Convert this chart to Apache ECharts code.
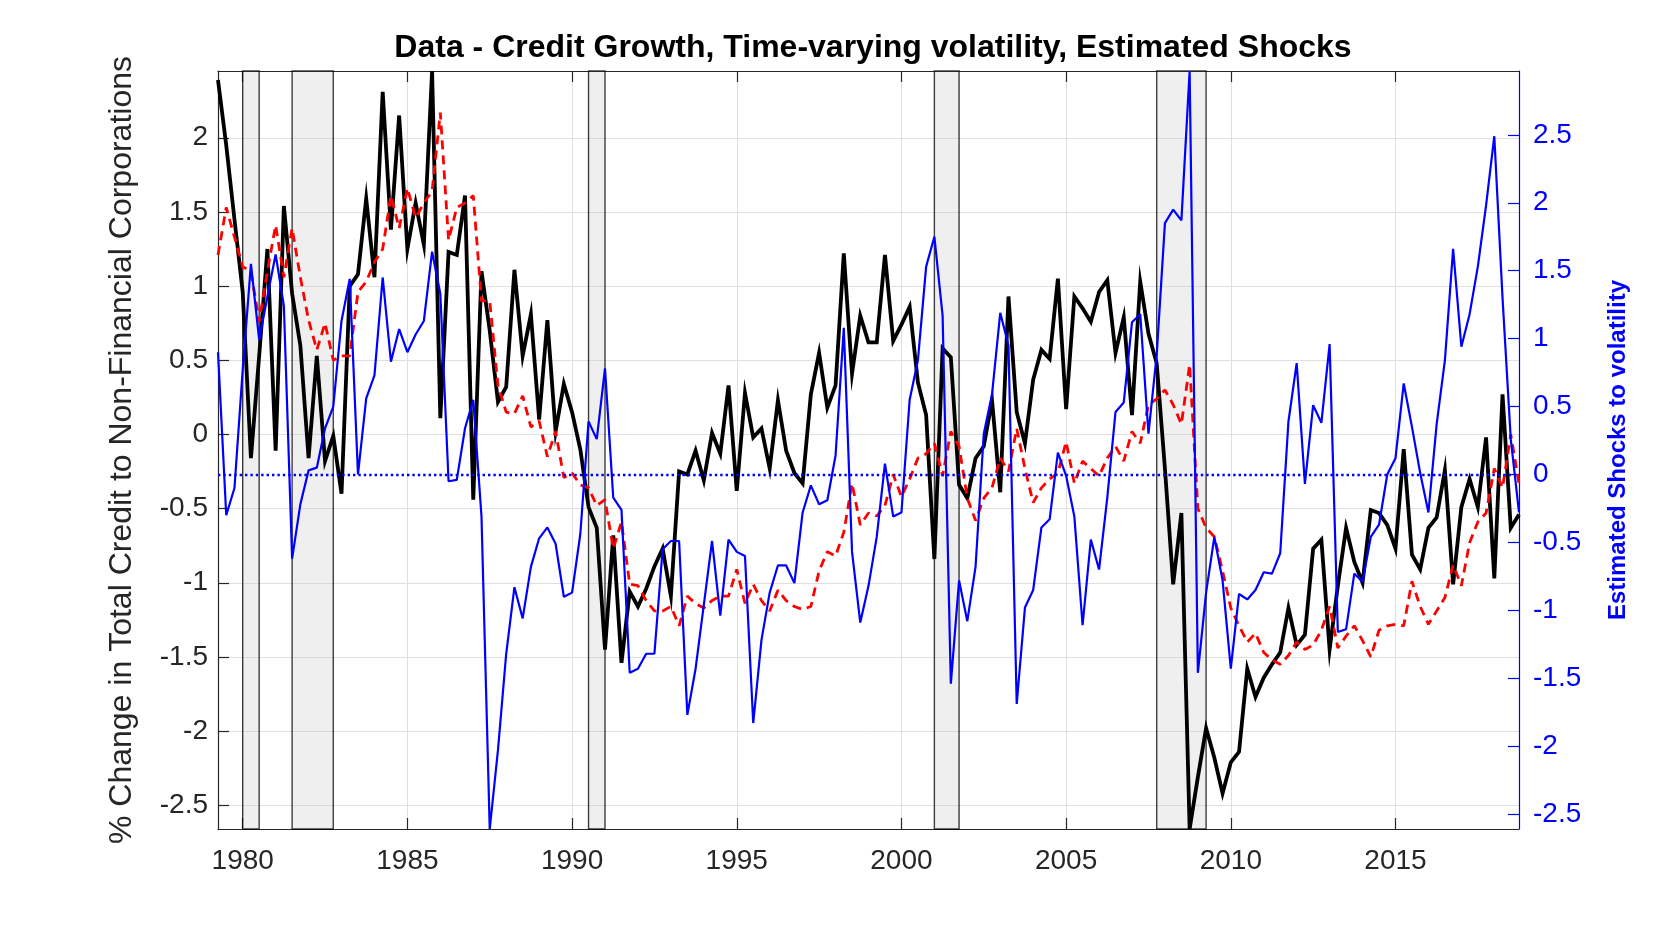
<!DOCTYPE html>
<html>
<head>
<meta charset="utf-8">
<title>Credit Growth, Time-varying volatility, Estimated Shocks</title>
<script src="https://cdn.jsdelivr.net/npm/echarts@6/dist/echarts.min.js"></script>
<style>
  html, body { margin: 0; padding: 0; background: #fff; }
  #chart { width: 1680px; height: 933px; }
</style>
</head>
<body>
<div id="chart"></div>
<script>
var myChart = echarts.init(document.getElementById('chart'));

// quarterly data, 1979Q2 .. 2018Q4
var startYear = 1979.25;

// % change in total credit to non-financial corporations (black)
var creditGrowth = [
    2.39, 1.95, 1.45,
    0.96, -0.16, 0.53, 1.25,
    -0.11, 1.54, 0.95, 0.60,
    -0.16, 0.53, -0.18, -0.01,
    -0.40, 1.00, 1.08, 1.59,
    1.06, 2.31, 1.38, 2.15,
    1.25, 1.56, 1.28, 2.45,
    0.11, 1.23, 1.21, 1.61,
    -0.44, 1.10, 0.70, 0.22,
    0.32, 1.11, 0.53, 0.81,
    0.10, 0.77, 0.02, 0.34,
    0.15, -0.10, -0.49, -0.63,
    -1.45, -0.68, -1.54, -1.06,
    -1.16, -1.04, -0.89, -0.77,
    -1.09, -0.25, -0.27, -0.11,
    -0.31, 0.01, -0.13, 0.33,
    -0.38, 0.28, -0.02, 0.04,
    -0.23, 0.23, -0.11, -0.26,
    -0.33, 0.27, 0.55, 0.18,
    0.33, 1.22, 0.41, 0.80,
    0.62, 0.62, 1.21, 0.63,
    0.74, 0.86, 0.35, 0.13,
    -0.84, 0.58, 0.52, -0.34,
    -0.43, -0.16, -0.08, 0.23,
    -0.39, 0.93, 0.15, -0.06,
    0.37, 0.57, 0.51, 1.05,
    0.17, 0.93, 0.85, 0.76,
    0.96, 1.04, 0.55, 0.79,
    0.13, 1.03, 0.68, 0.48,
    -0.23, -1.01, -0.53, -2.66,
    -2.31, -1.98, -2.18, -2.42,
    -2.21, -2.14, -1.58, -1.77,
    -1.64, -1.55, -1.47, -1.17,
    -1.42, -1.35, -0.77, -0.71,
    -1.45, -1.02, -0.63, -0.86,
    -1.00, -0.51, -0.53, -0.61,
    -0.77, -0.10, -0.81, -0.91,
    -0.63, -0.56, -0.24, -1.01,
    -0.49, -0.30, -0.49, -0.02,
    -0.97, 0.27, -0.63, -0.54
];

// time-varying volatility (red dashed)
var volatility = [
    1.21, 1.53, 1.33,
    1.13, 1.10, 0.76, 1.10,
    1.41, 1.06, 1.39, 1.06,
    0.77, 0.57, 0.75, 0.50,
    0.53, 0.53, 0.96, 1.03,
    1.16, 1.25, 1.61, 1.39,
    1.66, 1.46, 1.56, 1.64,
    2.17, 1.31, 1.53, 1.56,
    1.61, 0.90, 0.90, 0.33,
    0.15, 0.14, 0.26, 0.05,
    0.09, -0.15, 0.02, -0.29,
    -0.26, -0.34, -0.36, -0.48,
    -0.44, -0.77, -0.59, -1.01,
    -1.02, -1.12, -1.19, -1.19,
    -1.16, -1.29, -1.09, -1.14,
    -1.17, -1.12, -1.09, -1.09,
    -0.91, -1.14, -1.01, -1.12,
    -1.19, -1.05, -1.12, -1.16,
    -1.18, -1.16, -0.92, -0.79,
    -0.82, -0.66, -0.33, -0.61,
    -0.53, -0.55, -0.48, -0.27,
    -0.42, -0.30, -0.16, -0.13,
    -0.06, -0.28, 0.02, -0.08,
    -0.43, -0.58, -0.43, -0.36,
    -0.16, -0.25, 0.04, -0.23,
    -0.46, -0.36, -0.30, -0.26,
    -0.05, -0.33, -0.18, -0.23,
    -0.28, -0.16, -0.08, -0.18,
    0.02, -0.06, 0.20, 0.24,
    0.30, 0.20, 0.07, 0.47,
    -0.50, -0.63, -0.69, -0.92,
    -1.17, -1.29, -1.40, -1.34,
    -1.47, -1.52, -1.55, -1.49,
    -1.40, -1.45, -1.42, -1.32,
    -1.16, -1.44, -1.36, -1.29,
    -1.39, -1.50, -1.32, -1.29,
    -1.28, -1.29, -0.99, -1.16,
    -1.28, -1.19, -1.10, -0.88,
    -1.02, -0.73, -0.59, -0.53,
    -0.23, -0.36, 0.00, -0.33
];

// estimated shocks to volatility (blue, right axis)
var shocks = [
    0.90, -0.30, -0.10,
    0.77, 1.55, 0.99, 1.31,
    1.62, 1.24, -0.62, -0.22,
    0.03, 0.05, 0.34, 0.50,
    1.13, 1.44, 0.00, 0.56,
    0.73, 1.45, 0.83, 1.07,
    0.90, 1.03, 1.13, 1.64,
    1.33, -0.05, -0.04, 0.34,
    0.55, -0.31, -2.61, -2.03,
    -1.32, -0.83, -1.06, -0.68,
    -0.47, -0.39, -0.51, -0.90,
    -0.87, -0.44, 0.39, 0.26,
    0.78, -0.17, -0.26, -1.46,
    -1.43, -1.32, -1.32, -0.55,
    -0.49, -0.49, -1.77, -1.43,
    -0.96, -0.49, -1.04, -0.48,
    -0.57, -0.60, -1.83, -1.22,
    -0.87, -0.67, -0.67, -0.80,
    -0.28, -0.08, -0.22, -0.19,
    0.14, 1.08, -0.57, -1.09,
    -0.82, -0.46, 0.08, -0.31,
    -0.28, 0.55, 0.84, 1.53,
    1.75, 1.17, -1.54, -0.78,
    -1.08, -0.68, 0.30, 0.59,
    1.19, 0.95, -1.69, -0.98,
    -0.85, -0.39, -0.33, 0.16,
    -0.01, -0.31, -1.11, -0.48,
    -0.70, -0.17, 0.46, 0.53,
    1.12, 1.18, 0.30, 0.88,
    1.85, 1.95, 1.87, 2.97,
    -1.46, -0.87, -0.46, -0.78,
    -1.43, -0.88, -0.92, -0.85,
    -0.72, -0.73, -0.58, 0.39,
    0.82, -0.07, 0.51, 0.38,
    0.96, -1.16, -1.14, -0.73,
    -0.79, -0.46, -0.37, 0.00,
    0.12, 0.67, 0.35, 0.01,
    -0.28, 0.37, 0.84, 1.66,
    0.94, 1.18, 1.53, 1.98,
    2.49, 1.30, 0.26, -0.28
];

// recessions (start, end)
var recessions = [
    [1980.0, 1980.5],
    [1981.5, 1982.75],
    [1990.5, 1991.0],
    [2001.0, 2001.75],
    [2007.75, 2009.25]
];

var yearTicks = [1980, 1985, 1990, 1995, 2000, 2005, 2010, 2015];
var leftTicks = [-2.5, -2, -1.5, -1, -0.5, 0, 0.5, 1, 1.5, 2];
var rightTicks = [-2.5, -2, -1.5, -1, -0.5, 0, 0.5, 1, 1.5, 2, 2.5];

var pairUp = function (vals) {
    var res = [];
    for (var i = 0; i < vals.length; i++) {
        res.push([startYear + i * 0.25, vals[i]]);
    }
    return res;
};

var font = 'Liberation Sans, Arial, Helvetica, sans-serif';

option = {
    backgroundColor: '#ffffff',
    animation: false,
    title: {
        text: 'Data - Credit Growth, Time-varying volatility, Estimated Shocks',
        left: 868,
        top: 27,
        textAlign: 'center',
        textStyle: {
            fontFamily: font,
            fontSize: 32,
            fontWeight: 'bold',
            color: '#000'
        }
    },
    grid: {
        left: 218,
        right: 161,
        top: 71,
        bottom: 104
    },
    xAxis: [{
        type: 'value',
        min: 1979.25,
        max: 2018.75,
        position: 'bottom',
        axisLine: {onZero: false, lineStyle: {color: '#262626', width: 1.2}},
        axisTick: {inside: true, length: 11, customValues: yearTicks, lineStyle: {color: '#262626', width: 1.2}},
        axisLabel: {
            customValues: yearTicks,
            formatter: function (v) { return String(v); },
            margin: 18,
            fontFamily: font,
            fontSize: 28,
            color: '#262626'
        },
        splitLine: {show: true, lineStyle: {color: '#dfdfdf', width: 1}}
    }, {
        type: 'value',
        min: 1979.25,
        max: 2018.75,
        position: 'top',
        axisLine: {onZero: false, lineStyle: {color: '#262626', width: 1.2}},
        axisTick: {inside: true, length: 11, customValues: yearTicks, lineStyle: {color: '#262626', width: 1.2}},
        axisLabel: {show: false},
        splitLine: {show: false}
    }],
    yAxis: [{
        type: 'value',
        position: 'left',
        min: -2.66,
        max: 2.45,
        name: '% Change in Total Credit to Non-Financial Corporations',
        nameLocation: 'middle',
        nameRotate: 90,
        nameGap: 80,
        nameTextStyle: {fontFamily: font, fontSize: 32, color: '#262626'},
        axisLine: {show: true, onZero: false, lineStyle: {color: '#262626', width: 1.2}},
        axisTick: {show: true, inside: true, length: 11, customValues: leftTicks, lineStyle: {color: '#262626', width: 1.2}},
        axisLabel: {
            customValues: leftTicks,
            margin: 10,
            fontFamily: font,
            fontSize: 28,
            color: '#262626'
        },
        splitLine: {show: true, lineStyle: {color: '#dfdfdf', width: 1}}
    }, {
        type: 'value',
        position: 'right',
        min: -2.61,
        max: 2.97,
        name: 'Estimated Shocks to volatility',
        nameLocation: 'middle',
        nameRotate: 90,
        nameGap: 87,
        nameTextStyle: {fontFamily: font, fontSize: 24, fontWeight: 'bold', color: '#0000ff'},
        axisLine: {show: true, onZero: false, lineStyle: {color: '#0000ff', width: 1.2}},
        axisTick: {show: true, inside: true, length: 11, customValues: rightTicks, lineStyle: {color: '#0000ff', width: 1.2}},
        axisLabel: {
            customValues: rightTicks,
            margin: 14,
            fontFamily: font,
            fontSize: 28,
            color: '#0000ff'
        },
        splitLine: {show: false}
    }],
    series: [{
        name: 'Credit growth',
        type: 'line',
        xAxisIndex: 0,
        yAxisIndex: 0,
        data: pairUp(creditGrowth),
        symbol: 'none',
        lineStyle: {color: '#000000', width: 3.8, join: 'miter'},
        z: 2
    }, {
        name: 'Time-varying volatility',
        type: 'line',
        xAxisIndex: 0,
        yAxisIndex: 0,
        data: pairUp(volatility),
        symbol: 'none',
        lineStyle: {color: '#ff0000', width: 2.8, type: [9, 6]},
        z: 3
    }, {
        name: 'Estimated shocks',
        type: 'line',
        xAxisIndex: 0,
        yAxisIndex: 1,
        data: pairUp(shocks),
        symbol: 'none',
        lineStyle: {color: '#0000ff', width: 2.2},
        markLine: {
            silent: true,
            symbol: 'none',
            label: {show: false},
            lineStyle: {color: '#0000ff', width: 2.4, type: [2.4, 3]},
            data: [{yAxis: 0}]
        },
        z: 4
    }, {
        name: 'Recessions',
        type: 'line',
        xAxisIndex: 0,
        yAxisIndex: 0,
        data: [],
        markArea: {
            silent: true,
            itemStyle: {
                color: 'rgba(204,204,204,0.31)',
                borderColor: 'rgba(0,0,0,0.75)',
                borderWidth: 1.4
            },
            data: recessions.map(function (r) {
                return [{xAxis: r[0]}, {xAxis: r[1]}];
            })
        },
        z: 6
    }]
};
myChart.setOption(option);
</script>
</body>
</html>
